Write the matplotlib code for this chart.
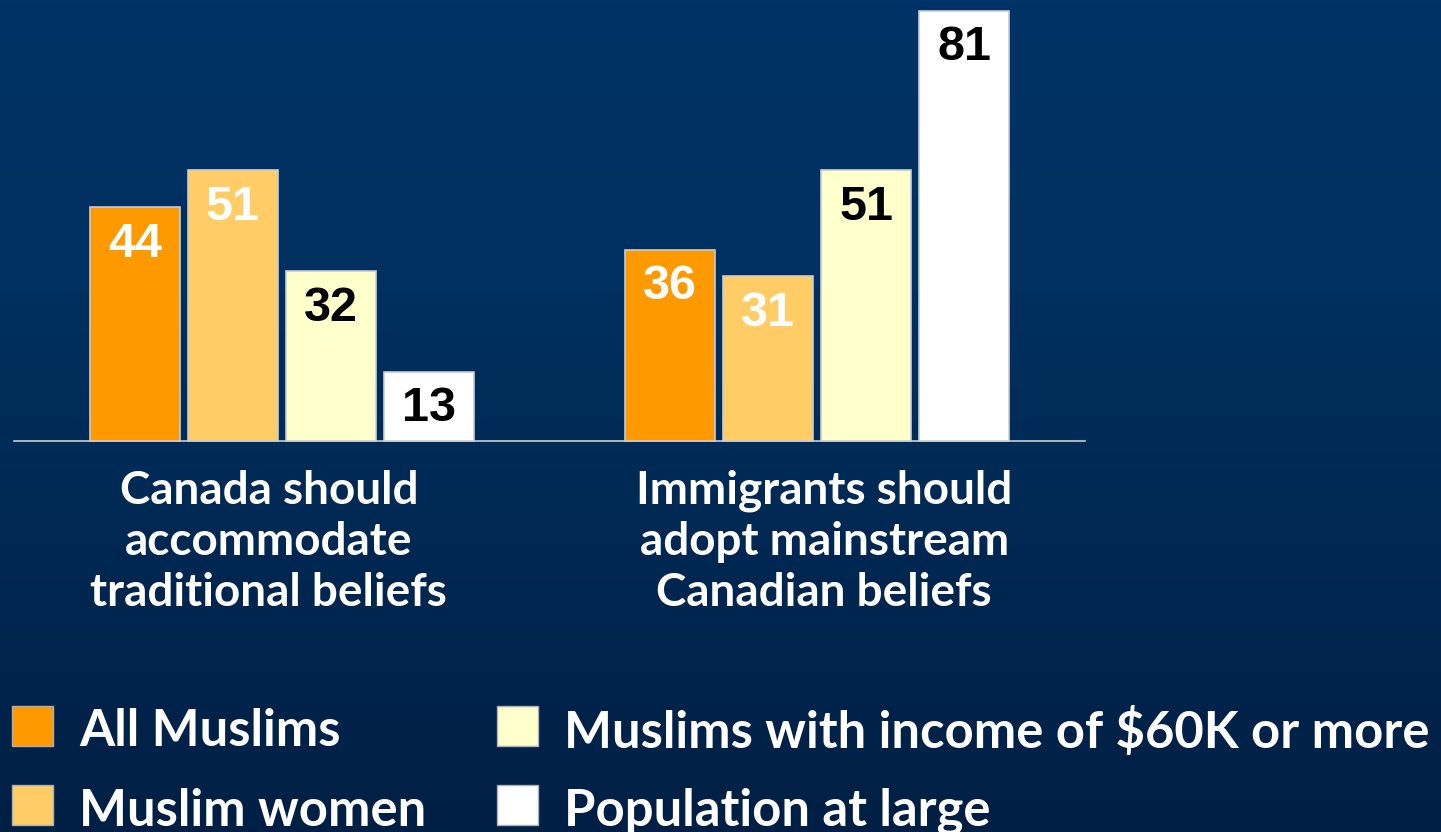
import numpy as np
import matplotlib
matplotlib.use("Agg")
import matplotlib.pyplot as plt
from matplotlib.colors import LinearSegmentedColormap
from matplotlib.patches import Rectangle

# data
groups = ["Canada should\naccommodate\ntraditional beliefs",
          "Immigrants should\nadopt mainstream\nCanadian beliefs"]
series = ["All Muslims", "Muslim women",
          "Muslims with income of $60K or more", "Population at large"]
values = [[44, 36], [51, 31], [32, 51], [13, 81]]
colors = ["#FF9900", "#FFCC66", "#FFFFCC", "#FFFFFF"]
label_colors = ["white", "white", "black", "black"]

W, H = 1441, 832
fig = plt.figure(figsize=(W / 100, H / 100), dpi=100)

# gradient background
bg = fig.add_axes([0, 0, 1, 1], zorder=-10)
cmap = LinearSegmentedColormap.from_list(
    "bg", [(0, "#003366"), (0.35, "#00305f"), (1, "#001f44")])
grad = np.linspace(0, 1, 256).reshape(-1, 1)
bg.imshow(grad, aspect="auto", cmap=cmap, extent=[0, 1, 0, 1])
bg.axis("off")

ax = fig.add_axes([14 / W, 1 - 441 / H, (1085 - 14) / W, 430 / H])
ax.patch.set_alpha(0)

x = np.arange(len(groups))
step = 98 / 535.5
width = 90 / 535.5
for i, (vals, c) in enumerate(zip(values, colors)):
    pos = x + (i - 1.5) * step
    bars = ax.bar(pos, vals, width=width, color=c, edgecolor="#c8ccd4",
                  linewidth=1.2, clip_on=False, zorder=3)
    for b, v in zip(bars, vals):
        ax.annotate(str(v), (b.get_x() + b.get_width() / 2, v),
                    xytext=(0, -37), textcoords="offset pixels",
                    ha="center", va="center", fontsize=35,
                    fontweight="bold", family="Liberation Sans",
                    color=label_colors[i], zorder=4)

ax.set_xlim(-0.5, 1.5)
ax.set_ylim(0, 81)
for s in ["top", "right", "left"]:
    ax.spines[s].set_visible(False)
ax.spines["bottom"].set_color("#c8ccd4")
ax.spines["bottom"].set_linewidth(1.2)
ax.set_yticks([])
ax.set_xticks([])

# category labels sit slightly off the group centres in the original
for xi, g, dx in zip(x, groups, [-13, 7]):
    ax.annotate(g, (xi, 0), xytext=(dx, -101), textcoords="offset pixels",
                ha="center", va="center", fontsize=33, fontweight="bold",
                family="Lato", color="white", linespacing=1.26)

# legend
leg_pos = [(12, 706), (12, 785), (497, 706), (497, 785)]
for (lx, ly), name, c in zip(leg_pos, series, colors):
    fig.patches.append(Rectangle((lx / W, 1 - (ly + 40) / H), 41 / W, 40 / H,
                                 facecolor=c, edgecolor="#aab0b8",
                                 linewidth=1, transform=fig.transFigure))
    fig.text((lx + 67) / W, 1 - (ly + 26) / H, name, ha="left", va="center",
             fontsize=36.5, fontweight="bold", family="Lato", color="white")

fig.savefig("out.png", dpi=100)
